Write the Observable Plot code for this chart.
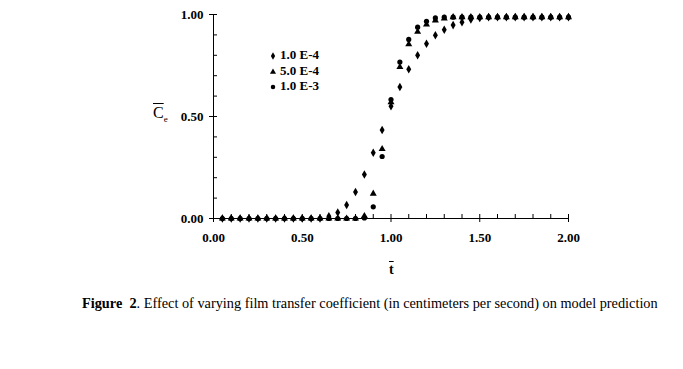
<!DOCTYPE html>
<html><head><meta charset="utf-8">
<script src="https://cdn.jsdelivr.net/npm/d3@7"></script>
<script src="https://cdn.jsdelivr.net/npm/@observablehq/plot@0.6"></script>
<style>
body{margin:0;background:#fff;}
#wrap{position:relative;width:683px;height:369px;font-family:"Liberation Serif","Tinos","DejaVu Serif","Noto Serif",serif;color:#000;}
#chart{position:absolute;left:0;top:0;}
.legend{position:absolute;left:268px;top:47px;font-size:13px;font-weight:bold;}
.legend div{height:15.5px;line-height:15.5px;white-space:nowrap;}
.legend svg{vertical-align:middle;margin-right:2px;}
.ylab{position:absolute;left:153px;top:104px;font-size:16px;white-space:nowrap;}
.xlab{position:absolute;left:389px;top:262px;font-size:14px;font-weight:bold;}
.caption{position:absolute;left:82px;top:295px;font-size:14.3px;white-space:nowrap;}
</style></head><body><div id="wrap"><div id="chart"></div></div>
<script>
const seriesNames = ["1.0 E-4", "5.0 E-4", "1.0 E-3"];
const seriesSymbols = ["diamond", "triangle", "circle"];
const tValues = [0.05,0.10,0.15,0.20,0.25,0.30,0.35,0.40,0.45,0.50,
  0.55,0.60,0.65,0.70,0.75,0.80,0.85,0.90,0.95,1.00,
  1.05,1.10,1.15,1.20,1.25,1.30,1.35,1.40,1.45,1.50,
  1.55,1.60,1.65,1.70,1.75,1.80,1.85,1.90,1.95,2.00];
const valuesE4 = [0,0,0,0,0,0,0,0,0,0,
  0,0,0.011,0.029,0.066,0.13,0.216,0.322,0.434,0.55,
  0.645,0.732,0.80,0.857,0.898,0.925,0.948,0.962,0.976,0.983,
  0.987,0.987,0.987,0.987,0.987,0.987,0.987,0.987,0.987,0.987];
const values5E4 = [0,0,0,0,0,0,0,0,0,0,
  0,0,0,0,0,0,0.012,0.122,0.341,0.57,
  0.743,0.854,0.915,0.951,0.971,0.98,0.987,0.987,0.987,0.987,
  0.987,0.987,0.987,0.987,0.987,0.987,0.987,0.987,0.987,0.987];
const valuesE3 = [0,0,0,0,0,0,0,0,0,0,
  0,0,0,0,0,0,0.003,0.057,0.304,0.583,
  0.767,0.878,0.938,0.967,0.983,0.987,0.987,0.987,0.987,0.987,
  0.987,0.987,0.987,0.987,0.987,0.987,0.987,0.987,0.987,0.987];
const xMajorTicks = [0, 0.5, 1.0, 1.5, 2.0];
const xMinorTicks = [0,0.1,0.2,0.3,0.4,0.5,0.6,0.7,0.8,0.9,1.0,1.1,1.2,1.3,1.4,1.5,1.6,1.7,1.8,1.9,2.0];
const yMajorTicks = [0, 0.5, 1.0];
const yMinorTicks = [0,0.1,0.2,0.3,0.4,0.5,0.6,0.7,0.8,0.9,1.0];

const seriesValues = [valuesE4, values5E4, valuesE3];
const data = [];
seriesNames.forEach((name, i) => {
  tValues.forEach((t, j) => data.push({t, v: seriesValues[i][j], series: name}));
});

const W = 683, H = 290, mL = 213, mR = 115, mT = 14, mB = 72;
const innerW = W - mL - mR, innerH = H - mT - mB;
const fmt = d => d.toFixed(2);

const chart = Plot.plot({
  width: W, height: H,
  marginLeft: mL, marginRight: mR, marginTop: mT, marginBottom: mB,
  x: {domain: [0, 2]},
  y: {domain: [0, 1]},
  symbol: {domain: seriesNames, range: seriesSymbols},
  style: {fontFamily: "'Liberation Serif','Tinos','DejaVu Serif','Noto Serif',serif", fontSize: "13px", fontWeight: "bold", color: "#000", background: "transparent", overflow: "visible"},
  marks: [
    Plot.tickX(xMinorTicks, {x: d => d, insetTop: innerH - 4, stroke: "#000"}),
    Plot.tickY(yMinorTicks, {y: d => d, insetRight: innerW - 4, stroke: "#000"}),
    Plot.axisX(xMajorTicks, {tickSize: 4, tickPadding: 10, tickFormat: fmt, label: null, stroke: "#000"}),
    Plot.axisY(yMajorTicks, {tickSize: 4, tickPadding: 6, tickFormat: fmt, label: null, stroke: "#000"}),
    Plot.ruleX([0], {stroke: "#000"}),
    Plot.ruleY([0], {stroke: "#000"}),
    Plot.dot(data, {x: "t", y: "v", symbol: "series", fill: "#000", stroke: "none", r: 2.6})
  ]
});
const wrap = document.getElementById("wrap");
document.getElementById("chart").appendChild(chart);

const legend = document.createElement("div");
legend.className = "legend";
const symMap = {diamond: d3.symbolDiamond, triangle: d3.symbolTriangle, circle: d3.symbolCircle};
seriesNames.forEach((name, i) => {
  const row = document.createElement("div");
  const path = d3.symbol(symMap[seriesSymbols[i]], 16)();
  row.innerHTML = `<svg width="10" height="10" viewBox="-5 -5 10 10"><path d="${path}" fill="#000"/></svg>${name}`;
  legend.appendChild(row);
});
wrap.appendChild(legend);

const ylab = document.createElement("div");
ylab.className = "ylab";
ylab.innerHTML = `<span style="text-decoration:overline">C</span><sub style="font-size:9px">e</sub>`;
wrap.appendChild(ylab);

const xlab = document.createElement("div");
xlab.className = "xlab";
xlab.innerHTML = `<span style="text-decoration:overline">t</span>`;
wrap.appendChild(xlab);

const cap = document.createElement("div");
cap.className = "caption";
cap.innerHTML = `<b>Figure&nbsp;&nbsp;2</b>. Effect of varying film transfer coefficient (in centimeters per second) on model prediction`;
wrap.appendChild(cap);
</script></body></html>
